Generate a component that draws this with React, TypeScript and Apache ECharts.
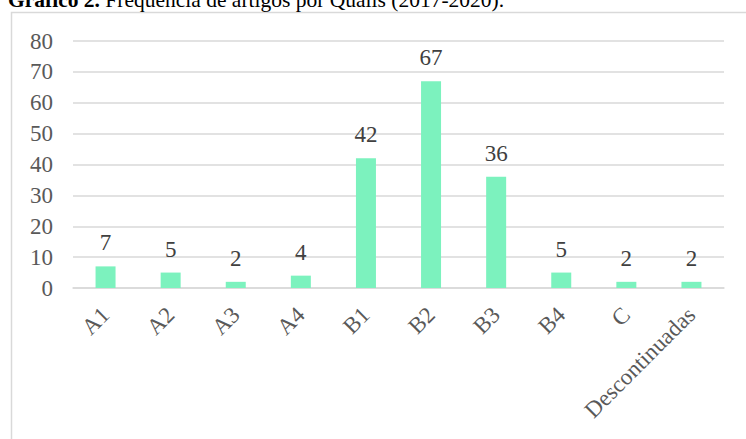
import React, { useEffect, useRef } from "react";
import * as echarts from "echarts";

const categories = ["A1", "A2", "A3", "A4", "B1", "B2", "B3", "B4", "C", "Descontinuadas"];
const values = [7, 5, 2, 4, 42, 67, 36, 5, 2, 2];
const yTicks = { min: 0, max: 80, interval: 10 };

export default function App() {
  const ref = useRef<HTMLDivElement>(null);
  useEffect(() => {
    const chart = echarts.init(ref.current!, null, { renderer: "svg" });
    const font = "'Liberation Serif', 'Times New Roman', serif";
    chart.setOption({
      animation: false,
      backgroundColor: "#ffffff",
      title: {
        text: "{b|Gráfico 2.} Frequência de artigos por Qualis (2017-2020).",
        left: 3,
        top: -16,
        textStyle: {
          fontFamily: font,
          fontSize: 21.5,
          fontWeight: "normal",
          color: "#000000",
          rich: {
            b: { fontFamily: font, fontSize: 21.5, fontWeight: "bold", color: "#000000" },
          },
        },
      },
      graphic: [
        {
          type: "rect",
          shape: { x: 11.5, y: 12.5, width: 800, height: 500 },
          style: { fill: "none", stroke: "#d9d9d9", lineWidth: 1.5 },
          silent: true,
        },
      ],
      grid: { left: 73, right: 22, top: 41, bottom: 151, containLabel: false },
      xAxis: {
        type: "category",
        data: categories,
        axisLine: { lineStyle: { color: "#d9d9d9", width: 1.5 } },
        axisTick: { show: false },
        axisLabel: {
          rotate: 45,
          interval: 0,
          margin: 23,
          fontFamily: font,
          fontSize: 23,
          color: "#595959",
        },
      },
      yAxis: {
        type: "value",
        min: yTicks.min,
        max: yTicks.max,
        interval: yTicks.interval,
        axisLine: { show: false },
        axisTick: { show: false },
        splitLine: { lineStyle: { color: "#d9d9d9", width: 1.5 } },
        axisLabel: { fontFamily: font, fontSize: 23, color: "#595959", margin: 20 },
      },
      series: [
        {
          type: "bar",
          data: values,
          barWidth: 20,
          itemStyle: { color: "#7cf2be" },
          label: {
            show: true,
            position: "top",
            distance: 12,
            fontFamily: font,
            fontSize: 23,
            color: "#404040",
          },
        },
      ],
    });
    return () => chart.dispose();
  }, []);
  return (
    <div
      ref={ref}
      style={{ position: "fixed", left: 0, top: 0, width: 746, height: 439 }}
    />
  );
}
